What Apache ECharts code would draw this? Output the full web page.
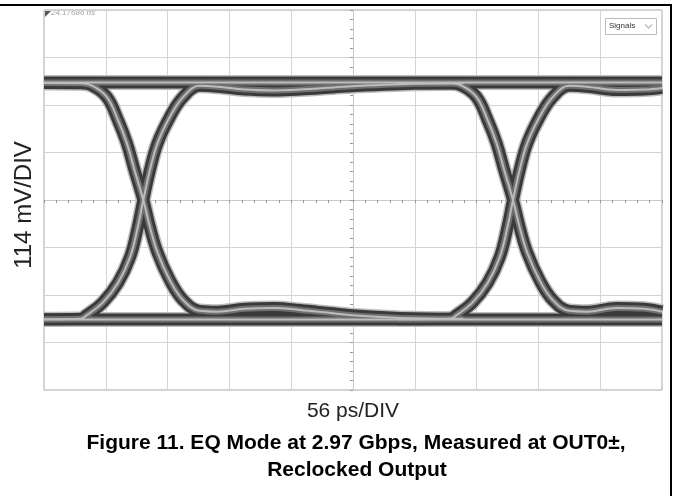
<!DOCTYPE html>
<html>
<head>
<meta charset="utf-8">
<script src="https://cdn.jsdelivr.net/npm/echarts@6/dist/echarts.min.js"></script>
<style>
    html, body { margin: 0; padding: 0; background: #fff; }
    #eye { width: 673px; height: 496px; }
</style>
</head>
<body>
<div id="eye"></div>
<script>
// time in ps (centre of screen = 0), level in mV
var xTicks = [-280, -224, -168, -112, -56, 0, 56, 112, 168, 224, 280];
var yTicks = [-456, -342, -228, -114, 0, 114, 228, 342, 456];

// steady 1 and 0 levels
var highLevel = [[-280, 282], [280, 282]];
var lowLevel = [[-280, -287], [280, -287]];

// first crossing
var fall1 = [[-280, 281], [-247, 280], [-236, 274], [-223, 247], [-213, 192], [-205, 137], [-198, 72],
    [-190, 0], [-184, -65], [-177, -127], [-166, -192], [-154, -240], [-139, -266], [-123, -268],
    [-98, -261], [-71, -259], [-48, -264], [-18, -272], [6, -278], [43, -283], [100, -285]];
var rise1 = [[-280, -286], [-247, -285], [-241, -276], [-227, -247], [-213, -199], [-202, -137], [-195, -65],
    [-190, 0], [-184, 72], [-177, 137], [-166, 199], [-154, 247], [-139, 274], [-123, 272],
    [-98, 265], [-71, 263], [-48, 265], [-18, 270], [6, 274], [43, 278], [100, 280]];

// second crossing
var fall2 = [[40, 281], [88, 280], [99, 274], [112, 247], [122, 192], [130, 137], [137, 72],
    [145, 0], [151, -65], [158, -127], [169, -192], [181, -240], [196, -266], [212, -268],
    [239, -259], [264, -261], [280, -268]];
var rise2 = [[40, -286], [88, -285], [94, -276], [108, -247], [122, -199], [133, -137], [140, -65],
    [145, 0], [151, 72], [158, 137], [169, 199], [181, 247], [196, 274], [212, 272],
    [239, 264], [264, 265], [280, 269]];

var traces = [highLevel, lowLevel, fall1, rise1, fall2, rise2];

// layers of the persistence band: scatter halo, dense dark, grey, light core
var layers = [
    { color: '#bdbdbd', width: 15 },
    { color: '#3a3a3a', width: 12 },
    { color: '#707070', width: 6 },
    { color: '#bcbcbc', width: 2 }
];

var eyeChart = echarts.init(document.getElementById('eye'));

var series = [];
layers.forEach(function (l) {
    traces.forEach(function (t) {
        series.push({
            type: 'line', data: t, smooth: 0.4, showSymbol: false, silent: true,
            lineStyle: { color: l.color, width: l.width }
        });
    });
});

var font = '"Liberation Sans", Arial, sans-serif';

option = {
    animation: false,
    backgroundColor: '#fff',
    grid: {
        left: 44,
        right: 11,
        top: 10,
        bottom: 106,
        show: true,
        borderColor: '#a8a8a8',
        borderWidth: 1
    },
    xAxis: {
        type: 'value',
        min: xTicks[0],
        max: xTicks[xTicks.length - 1],
        interval: 56,
        axisLabel: { show: false },
        axisLine: { show: true, onZero: true, lineStyle: { color: '#c8c8c8' } },
        axisTick: { show: true, length: 3, lineStyle: { color: '#999' } },
        minorTick: { show: true, splitNumber: 5, length: 3, lineStyle: { color: '#999' } },
        splitLine: { show: true, lineStyle: { color: '#d4d4d4' } }
    },
    yAxis: {
        type: 'value',
        min: yTicks[0],
        max: yTicks[yTicks.length - 1],
        interval: 114,
        axisLabel: { show: false },
        axisLine: { show: true, onZero: true, lineStyle: { color: '#c8c8c8' } },
        axisTick: { show: true, length: 3, lineStyle: { color: '#999' } },
        minorTick: { show: true, splitNumber: 5, length: 3, lineStyle: { color: '#999' } },
        splitLine: { show: true, lineStyle: { color: '#d4d4d4' } }
    },
    graphic: [
        // page frame
        { type: 'line', shape: { x1: 0, y1: 5, x2: 672, y2: 5 }, style: { stroke: '#000', lineWidth: 2 } },
        { type: 'line', shape: { x1: 671, y1: 5, x2: 671, y2: 496 }, style: { stroke: '#000', lineWidth: 2 } },
        // scope marker + time stamp
        { type: 'polygon', shape: { points: [[45, 11], [51, 11], [45, 17]] }, style: { fill: '#555' } },
        {
            type: 'text', left: 51, top: 9,
            style: { text: '24.17686 ns', font: 'italic 8px ' + font, fill: '#a0a0a0' }
        },
        // Signals drop-down
        { type: 'rect', shape: { x: 605.5, y: 18.5, width: 51, height: 16 }, style: { fill: '#fff', stroke: '#bbb' } },
        {
            type: 'text', left: 609, top: 22,
            style: { text: 'Signals', font: '8px ' + font, fill: '#333' }
        },
        {
            type: 'polyline', shape: { points: [[645, 24.5], [648.5, 28], [652, 24.5]] },
            style: { stroke: '#c0c0c0', lineWidth: 1.5, fill: null }
        },
        // axis captions
        {
            type: 'text', x: 24, y: 205, rotation: Math.PI / 2,
            style: { text: '114 mV/DIV', font: '24px ' + font, fill: '#222', align: 'center', verticalAlign: 'middle' }
        },
        {
            type: 'text', x: 353, y: 411,
            style: { text: '56 ps/DIV', font: '21px ' + font, fill: '#222', align: 'center', verticalAlign: 'middle' }
        },
        {
            type: 'text', x: 356, y: 443,
            style: { text: 'Figure 11. EQ Mode at 2.97 Gbps, Measured at OUT0\u00b1,', font: 'bold 21px ' + font, fill: '#000', align: 'center', verticalAlign: 'middle' }
        },
        {
            type: 'text', x: 357, y: 470,
            style: { text: 'Reclocked Output', font: 'bold 21px ' + font, fill: '#000', align: 'center', verticalAlign: 'middle' }
        }
    ],
    series: series
};

eyeChart.setOption(option);
</script>
</body>
</html>
